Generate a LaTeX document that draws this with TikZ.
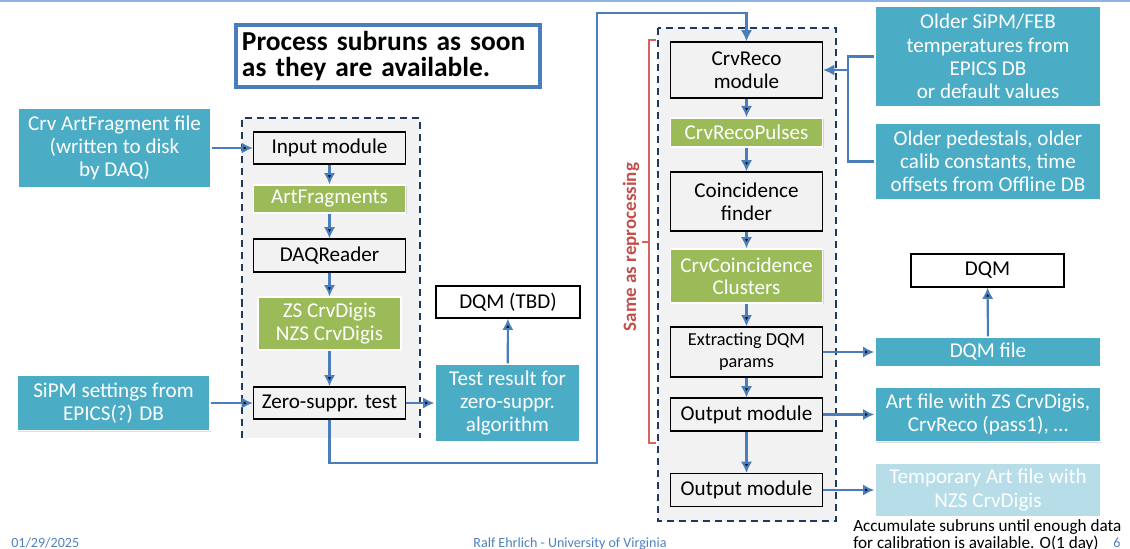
\documentclass[tikz,border=0pt]{standalone}
\usepackage{fontspec}
\setmainfont{Carlito}
\usepackage{tikz}
\usetikzlibrary{arrows.meta,positioning,calc,shadows}

\definecolor{cteal}{HTML}{4BACC6}
\definecolor{cpale}{HTML}{B6DDE8}
\definecolor{cgreen}{HTML}{9BBB59}
\definecolor{cline}{HTML}{4A7EBB}
\definecolor{cframe}{HTML}{1F3A60}
\definecolor{cgroup}{HTML}{F2F2F2}
\definecolor{cred}{HTML}{C0504D}
\definecolor{cbrack}{HTML}{D7635B}
\definecolor{cfoot}{HTML}{4F81BD}
\definecolor{ctop}{HTML}{8EB4E3}

\begin{document}
\begin{tikzpicture}
[x=0.025cm, y=-0.025cm, >={Latex[length=8pt,width=8pt]},
modul/.style = {draw=black, line width=0.9pt, align=center, inner sep=1pt,
  minimum width=3.8cm, font=\fontsize{15}{16}\selectfont},
prod/.style = {fill=cgreen, draw=white, line width=1pt, text=white, align=center,
  inner sep=1pt, font=\fontsize{15}{16}\selectfont,
  drop shadow={shadow xshift=0.7pt, shadow yshift=-0.7pt, opacity=0.25}},
ext/.style = {fill=cteal, draw=white, line width=1pt, text=white, align=center,
  inner sep=1pt, minimum width=5.65cm, font=\fontsize{15}{16.5}\selectfont,
  drop shadow={shadow xshift=0.7pt, shadow yshift=-0.7pt, opacity=0.25}},
dqmbox/.style = {draw=black, fill=white, line width=0.9pt, align=center,
  font=\fontsize{15}{16}\selectfont},
link/.style = {draw=cline, line width=1.5pt, ->},
grpframe/.style = {draw=cframe, line width=1.1pt, dash pattern=on 5pt off 3.5pt},
foot/.style = {text=cfoot, inner sep=0pt, font=\fontsize{10}{11}\selectfont}]

\useasboundingbox (0,0) rectangle (1130,548);
\clip (0,0) rectangle (1130,548);
\draw[ctop, line width=1pt] (0,1) -- (1130,1);

% groups (drawn first, behind the modules)
\fill[cgroup] (242,118) rectangle (420,438);
\draw[grpframe] (242,438) -- (242,118) -- (420,118) -- (420,438);
\fill[cgroup] (658,28) rectangle (836,521);
\draw[grpframe] (658,28) rectangle (836,521);

\node[draw=cline, fill=white, line width=2.2pt, text width=7.3cm, inner xsep=0.15cm,
  minimum height=1.55cm, align=left, font=\bfseries\fontsize{19.5}{18}\selectfont]
  (title) at (388,56) {Process subruns as soon\\as they are available.};

% online part
\node [modul, minimum height=0.8cm](input) at (329.5,148){Input module};
\node [prod, minimum width=3.8cm, minimum height=0.7cm](artfrag) at (329.5,199){ArtFragments};
\node [modul, minimum height=0.82cm](daq) at (329.5,255.5){DAQReader};
\node [prod, minimum width=3.58cm, minimum height=1.32cm](digis) at (329.5,323.5){ZS CrvDigis\\NZS CrvDigis};
\node [modul, minimum height=0.8cm](zstest) at (329.5,403){Zero-suppr. test};

\node [ext, minimum width=4.82cm, minimum height=2cm](artfile) at (114.5,148){Crv ArtFragment file\\(written to disk\\by DAQ)};
\node [ext, minimum width=4.82cm, minimum height=1.38cm](sipmset) at (113.5,403){SiPM settings from\\EPICS(?) DB};
\node [ext, minimum width=3.62cm, minimum height=1.95cm](zsresult) at (507.5,403){Test result for\\zero-suppr.\\algorithm};
\node [dqmbox, minimum width=3.6cm, minimum height=0.8cm](dqmtbd) at (508,302){DQM (TBD)};

% reco part
\node [modul, minimum height=1.4cm](reco) at (746.5,70){CrvReco\\module};
\node [prod, minimum width=3.8cm, minimum height=0.73cm](pulses) at (746.5,132.5){CrvRecoPulses};
\node [modul, minimum height=1.47cm](coinc) at (746.5,201.5){Coincidence\\finder};
\node [prod, minimum width=3.8cm, minimum height=1.35cm](clusters) at (746.5,276){CrvCoincidence\\Clusters};
\node [modul, minimum height=1.25cm, font=\fontsize{13}{15.5}\selectfont](extract) at (746.5,352){Extracting DQM\\params};
\node [modul, minimum height=0.82cm](out1) at (746.5,414.5){Output module};
\node [modul, minimum height=0.82cm](out2) at (746.5,490){Output module};

\node [ext, minimum height=2.52cm](oldtemp) at (988,56.5){Older SiPM/FEB\\temperatures from\\EPICS DB\\or default values};
\node [ext, minimum height=1.92cm](oldcalib) at (988,161.5){Older pedestals, older\\calib constants, time\\offsets from Offline DB};
\node [dqmbox, minimum width=3.82cm, minimum height=0.82cm](dqm) at (987.5,270.5){DQM};
\node [ext, minimum height=0.75cm](dqmfile) at (988,352){DQM file};
\node [ext, minimum height=1.35cm](passfile) at (988,414.5){Art file with ZS CrvDigis,\\CrvReco (pass1), \dots};
\node [ext, fill=cpale, minimum height=1.32cm](tmpfile) at (988,490){Temporary Art file with\\NZS CrvDigis};

\node[anchor=north west, align=left, inner sep=0pt, font=\fontsize{12.2}{10.2}\selectfont]
  (accnote) at (853,519.5){Accumulate subruns until enough data\\for calibration is available. O(1 day)};

% same as reprocessing
\draw[cbrack, line width=0.8pt] (656,40) -- (649,40) -- (649,443) -- (656,443);
\draw[cbrack, line width=0.8pt] (649,242) -- (642,242);
\node[rotate=90, text=cred, inner sep=0pt, font=\bfseries\fontsize{13.5}{15}\selectfont]
  (samelbl) at (631,247){Same as reprocessing};

\path[link]
(input)edge(artfrag)
(artfrag)edge(daq)
(daq)edge(digis)
(digis)edge(zstest)
(artfile)edge(input)
(sipmset)edge(zstest)
(zstest)edge(zsresult)
(zsresult)edge(dqmtbd)
(reco)edge(pulses)
(pulses)edge(coinc)
(coinc)edge(clusters)
(clusters)edge(extract)
(extract)edge(out1)
(out1)edge(out2)
(extract)edge(dqmfile)
(out1)edge(passfile)
(out2)edge(tmpfile)
(dqmfile)edge(dqm)
;

\coordinate (lowbend) at (597,463);
\coordinate (topbend) at (597,13);
\path[link] (zstest.south) |- (lowbend) -- (topbend) -| (reco.north);

\coordinate (jn) at (848,70);
\path[link, -] (oldtemp.west) -| (jn) |- (oldcalib.west);
\path[link] (jn) -- (reco.east);

% footer
\node[foot, anchor=west] (datelbl) at (11,543){01/29/2025};
\node[foot] (authlbl) at (570,544){Ralf Ehrlich - University of Virginia};
\node[foot] (pagelbl) at (1117,543){6};

\end{tikzpicture}
\end{document}
